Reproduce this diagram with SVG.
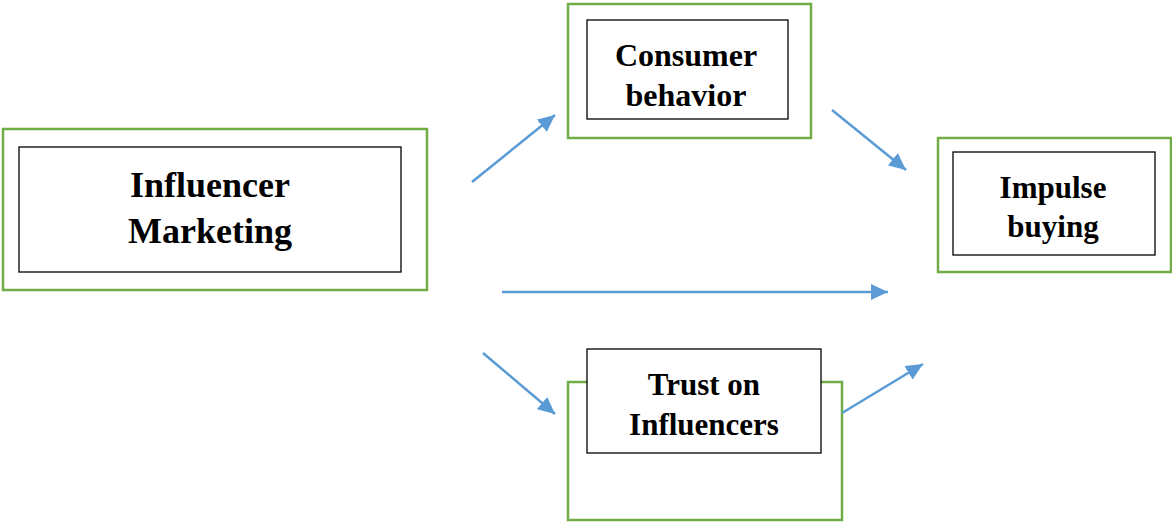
<svg xmlns="http://www.w3.org/2000/svg" width="1172" height="522" viewBox="0 0 1172 522">
<style>
.outer{fill:#fff;stroke:#70AD47;stroke-width:2.5}
.inner{fill:#fff;stroke:#000;stroke-width:1.3}
.t{font-family:"Liberation Serif","Times New Roman",serif;font-weight:bold;fill:#000;text-anchor:middle}
.c{stroke:#5B9BD5;stroke-width:2.5;fill:none;marker-end:url(#ah)}
</style>
<defs>
<marker id="ah" markerUnits="userSpaceOnUse" markerWidth="18" markerHeight="16" viewBox="0 0 18 16" refX="17" refY="8" orient="auto">
<path d="M0,0 L17,8 L0,16 Z" fill="#5B9BD5"/>
</marker>
</defs>
<rect width="1172" height="522" fill="#fff"/>
<g id="influencer-marketing">
<rect class="outer" x="3" y="129" width="424" height="161"/>
<rect class="inner" x="19" y="147" width="382" height="125"/>
<text class="t" x="210" y="197" font-size="36">Influencer</text>
<text class="t" x="210" y="243" font-size="36">Marketing</text>
</g>
<g id="consumer-behavior">
<rect class="outer" x="568" y="4" width="243" height="134"/>
<rect class="inner" x="587" y="20" width="201" height="99"/>
<text class="t" x="686" y="66" font-size="32">Consumer</text>
<text class="t" x="686" y="106" font-size="32">behavior</text>
</g>
<g id="impulse-buying">
<rect class="outer" x="938" y="138" width="233" height="134"/>
<rect class="inner" x="953" y="152" width="202" height="103"/>
<text class="t" x="1053" y="198" font-size="31">Impulse</text>
<text class="t" x="1053" y="237" font-size="31">buying</text>
</g>
<g id="trust-on-influencers">
<rect class="outer" x="568" y="382" width="274" height="138"/>
<rect class="inner" x="587" y="349" width="234" height="104"/>
<text class="t" x="704" y="395" font-size="31">Trust on</text>
<text class="t" x="704" y="435" font-size="31">Influencers</text>
</g>
<g id="connectors">
<line class="c" x1="472" y1="182" x2="555" y2="115"/>
<line class="c" x1="832" y1="110" x2="906" y2="170"/>
<line class="c" x1="502" y1="292" x2="888" y2="292"/>
<line class="c" x1="483" y1="353" x2="555" y2="414"/>
<line class="c" x1="842" y1="413" x2="923" y2="364"/>
</g>
</svg>
